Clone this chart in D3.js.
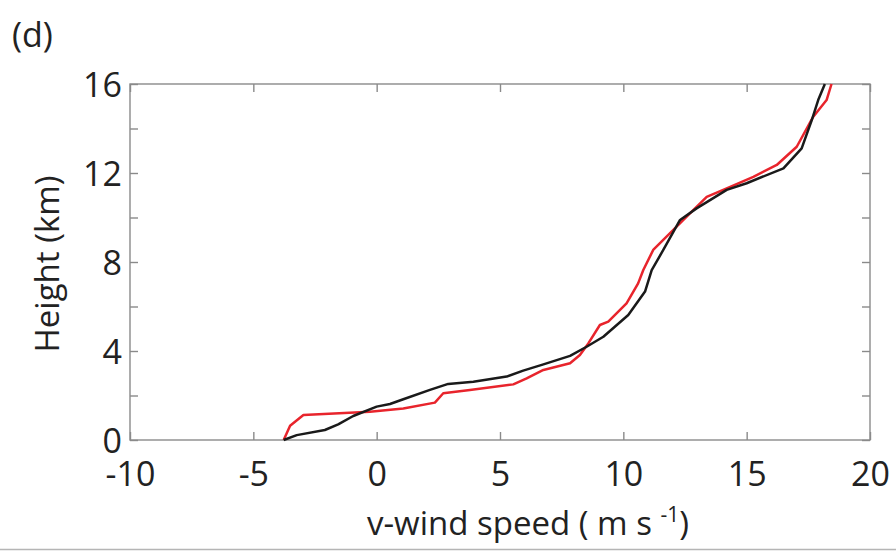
<!DOCTYPE html>
<html>
<head>
<meta charset="utf-8">
<script src="https://cdn.jsdelivr.net/npm/d3@7"></script>
<style>
  html, body { margin: 0; padding: 0; background: #fff; }
  svg { display: block; }
  text { font-family: "Open Sans", "Noto Sans", sans-serif; fill: #222; }
</style>
</head>
<body>
<svg id="chart" width="896" height="554"></svg>
<script>
// Vertical profiles of v-wind (m/s) against height (km)
const profileASpeed  = [-3.77, -3.51, -2.97, -0.27, 1.08, 2.36, 2.70, 3.78, 5.54, 6.08, 6.76, 7.84, 8.24, 8.58, 9.05, 9.39, 10.13, 10.60, 10.81, 11.21, 12.16, 12.70, 13.38, 14.19, 15.27, 16.22, 17.03, 17.70, 18.24, 18.44];
const profileAHeight = [0.00, 0.64, 1.12, 1.27, 1.42, 1.68, 2.10, 2.25, 2.50, 2.77, 3.15, 3.45, 3.82, 4.34, 5.17, 5.32, 6.14, 7.04, 7.64, 8.54, 9.59, 10.19, 10.93, 11.31, 11.83, 12.36, 13.18, 14.53, 15.28, 16.00];

const profileBSpeed  = [-3.77, -3.24, -2.10, -1.56, -0.95, 0.00, 0.54, 1.08, 2.16, 2.90, 3.92, 5.27, 5.94, 6.76, 7.84, 8.51, 9.19, 10.20, 10.88, 11.15, 11.62, 12.30, 12.97, 14.19, 15.00, 16.49, 17.23, 17.64, 17.90, 18.17];
const profileBHeight = [0.00, 0.22, 0.45, 0.70, 1.08, 1.50, 1.62, 1.83, 2.25, 2.52, 2.62, 2.85, 3.12, 3.40, 3.78, 4.19, 4.64, 5.62, 6.67, 7.64, 8.54, 9.89, 10.41, 11.24, 11.54, 12.21, 13.11, 14.38, 15.28, 16.00];

const xTickValues = [-10, -5, 0, 5, 10, 15, 20];
const yTickValues = [0, 2, 4, 6, 8, 10, 12, 14, 16];
const yLabelValues = [0, 4, 8, 12, 16];

const svg = d3.select("#chart");
const plotLeft = 130, plotRight = 870, plotTop = 84, plotBottom = 440;

const x = d3.scaleLinear().domain([-10, 20]).range([plotLeft, plotRight]);
const y = d3.scaleLinear().domain([0, 16]).range([plotBottom, plotTop]);

const axisColor = "#8a8a8a";
const tickFont = 34;

function styleAxis(g) {
  g.select(".domain").remove();
  g.selectAll(".tick line").attr("stroke", axisColor).attr("stroke-width", 1.4);
  g.selectAll(".tick text").style("font-size", tickFont + "px").attr("fill", "#222");
}

// bottom axis with labels, ticks pointing inward
svg.append("g")
  .attr("transform", `translate(0,${plotBottom})`)
  .call(d3.axisBottom(x).tickValues(xTickValues).tickSizeInner(-8).tickSizeOuter(0)
    .tickPadding(22).tickFormat(d => String(d)))
  .call(styleAxis);

// top axis, ticks only
svg.append("g")
  .attr("transform", `translate(0,${plotTop})`)
  .call(d3.axisTop(x).tickValues(xTickValues).tickSizeInner(-8).tickSizeOuter(0).tickFormat(""))
  .call(styleAxis);

// left axis: ticks every 2 km, labels every 4 km
svg.append("g")
  .attr("transform", `translate(${plotLeft},0)`)
  .call(d3.axisLeft(y).tickValues(yTickValues).tickSizeInner(-8).tickSizeOuter(0)
    .tickPadding(8).tickFormat(d => yLabelValues.includes(d) ? String(d) : ""))
  .call(styleAxis)
  .call(g => g.selectAll(".tick text").attr("dy", "0.38em"));

// right axis, ticks only
svg.append("g")
  .attr("transform", `translate(${plotRight},0)`)
  .call(d3.axisRight(y).tickValues(yTickValues).tickSizeInner(-8).tickSizeOuter(0).tickFormat(""))
  .call(styleAxis);

// plot frame
svg.append("rect")
  .attr("x", plotLeft).attr("y", plotTop)
  .attr("width", plotRight - plotLeft).attr("height", plotBottom - plotTop)
  .attr("fill", "none").attr("stroke", axisColor).attr("stroke-width", 1.4);

// profiles
const line = d3.line().x(d => x(d[0])).y(d => y(d[1]));
const profileA = d3.zip(profileASpeed, profileAHeight);
const profileB = d3.zip(profileBSpeed, profileBHeight);

svg.append("path").datum(profileA)
  .attr("d", line).attr("fill", "none")
  .attr("stroke", "#e8242c").attr("stroke-width", 2.5).attr("stroke-linejoin", "round");

svg.append("path").datum(profileB)
  .attr("d", line).attr("fill", "none")
  .attr("stroke", "#1a1a1a").attr("stroke-width", 2.5).attr("stroke-linejoin", "round");

// axis titles
svg.append("text")
  .attr("transform", `translate(59,${(plotTop + plotBottom) / 2 + 2}) rotate(-90)`)
  .attr("text-anchor", "middle")
  .style("font-size", "33px")
  .text("Height (km)");

const xt = svg.append("text")
  .attr("x", 528).attr("y", 535)
  .attr("text-anchor", "middle")
  .style("font-size", "33px");
xt.append("tspan").text("v-wind speed ( m s ");
xt.append("tspan").attr("dy", -13).style("font-size", "21px").text("-1");
xt.append("tspan").attr("dy", 13).text(")");

// panel letter
svg.append("text")
  .attr("x", 12).attr("y", 47)
  .style("font-size", "34px")
  .text("(d)");

// bottom rule
svg.append("line")
  .attr("x1", 0).attr("x2", 896).attr("y1", 549.5).attr("y2", 549.5)
  .attr("stroke", "#b5b5b5").attr("stroke-width", 1.5);
</script>
</body>
</html>
